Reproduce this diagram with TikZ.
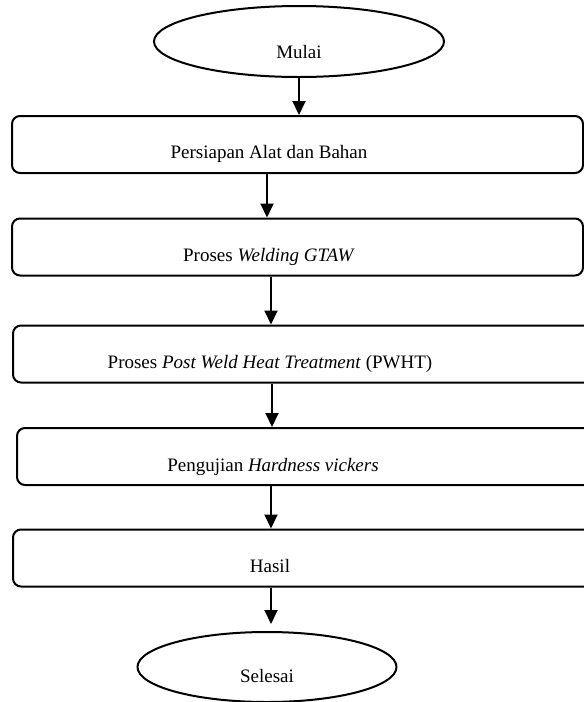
\documentclass[tikz,border=0pt]{standalone}
\usepackage{fontspec}
\setmainfont{Liberation Serif}
\usetikzlibrary{shapes.geometric,arrows.meta}
\tikzset{
  box/.style={draw, line width=2pt, rounded corners=8pt, minimum height=57pt, inner sep=0pt},
  oval/.style={draw, ellipse, line width=2pt, inner sep=0pt},
  lbl/.style={anchor=base, inner sep=0pt, font=\fontsize{19}{22}\selectfont},
  arr/.style={line width=2pt, -{Triangle[length=14pt,width=13pt]}}
}
\begin{document}
\begin{tikzpicture}[x=1pt,y=-1pt]
\useasboundingbox (0,0) rectangle (584,702);
\clip (0,0) rectangle (584,702);
% start / end ovals
\node[oval, minimum width=290pt, minimum height=71pt] (m) at (299,41.5) {};
\node[lbl] (tm) at (299,58) {Mulai};
\node[oval, minimum width=259pt, minimum height=70pt] (s) at (267,667) {};
\node[lbl] (ts) at (267,682) {Selesai};
% process boxes
\node[box, minimum width=571pt] (b1) at (297.5,144.5) {};
\node[lbl] (t1) at (269,158.5) {Persiapan Alat dan Bahan};
\node[box, minimum width=571pt] (b2) at (297.5,247) {};
\node[lbl] (t2) at (269,261.5) {Proses \textit{Welding GTAW}};
\node[box, minimum width=580pt] (b3) at (303,354) {};
\node[lbl] (t3) at (270,368) {Proses \textit{Post Weld Heat Treatment} (PWHT)};
\node[box, minimum width=576pt] (b4) at (305,456.5) {};
\node[lbl] (t4) at (273,471) {Pengujian \textit{Hardness vickers}};
\node[box, minimum width=580pt] (b5) at (303,558) {};
\node[lbl] (t5) at (270,572) {Hasil};
% arrow x positions
\coordinate (x2) at (267,0);
\coordinate (x3) at (271,0);
\coordinate (x4) at (272,0);
\coordinate (x5) at (271,0);
% connectors
\draw[arr] (m.south) -- (m.south |- b1.north);
\draw[arr] (b1.south -| x2) -- (b2.north -| x2);
\draw[arr] (b2.south -| x3) -- (b3.north -| x3);
\draw[arr] (b3.south -| x4) -- (b4.north -| x4);
\draw[arr] (b4.south -| x5) -- (b5.north -| x5);
\draw[arr] (b5.south -| x5) -- ([yshift=7pt]s.north -| x5);
\end{tikzpicture}
\end{document}
